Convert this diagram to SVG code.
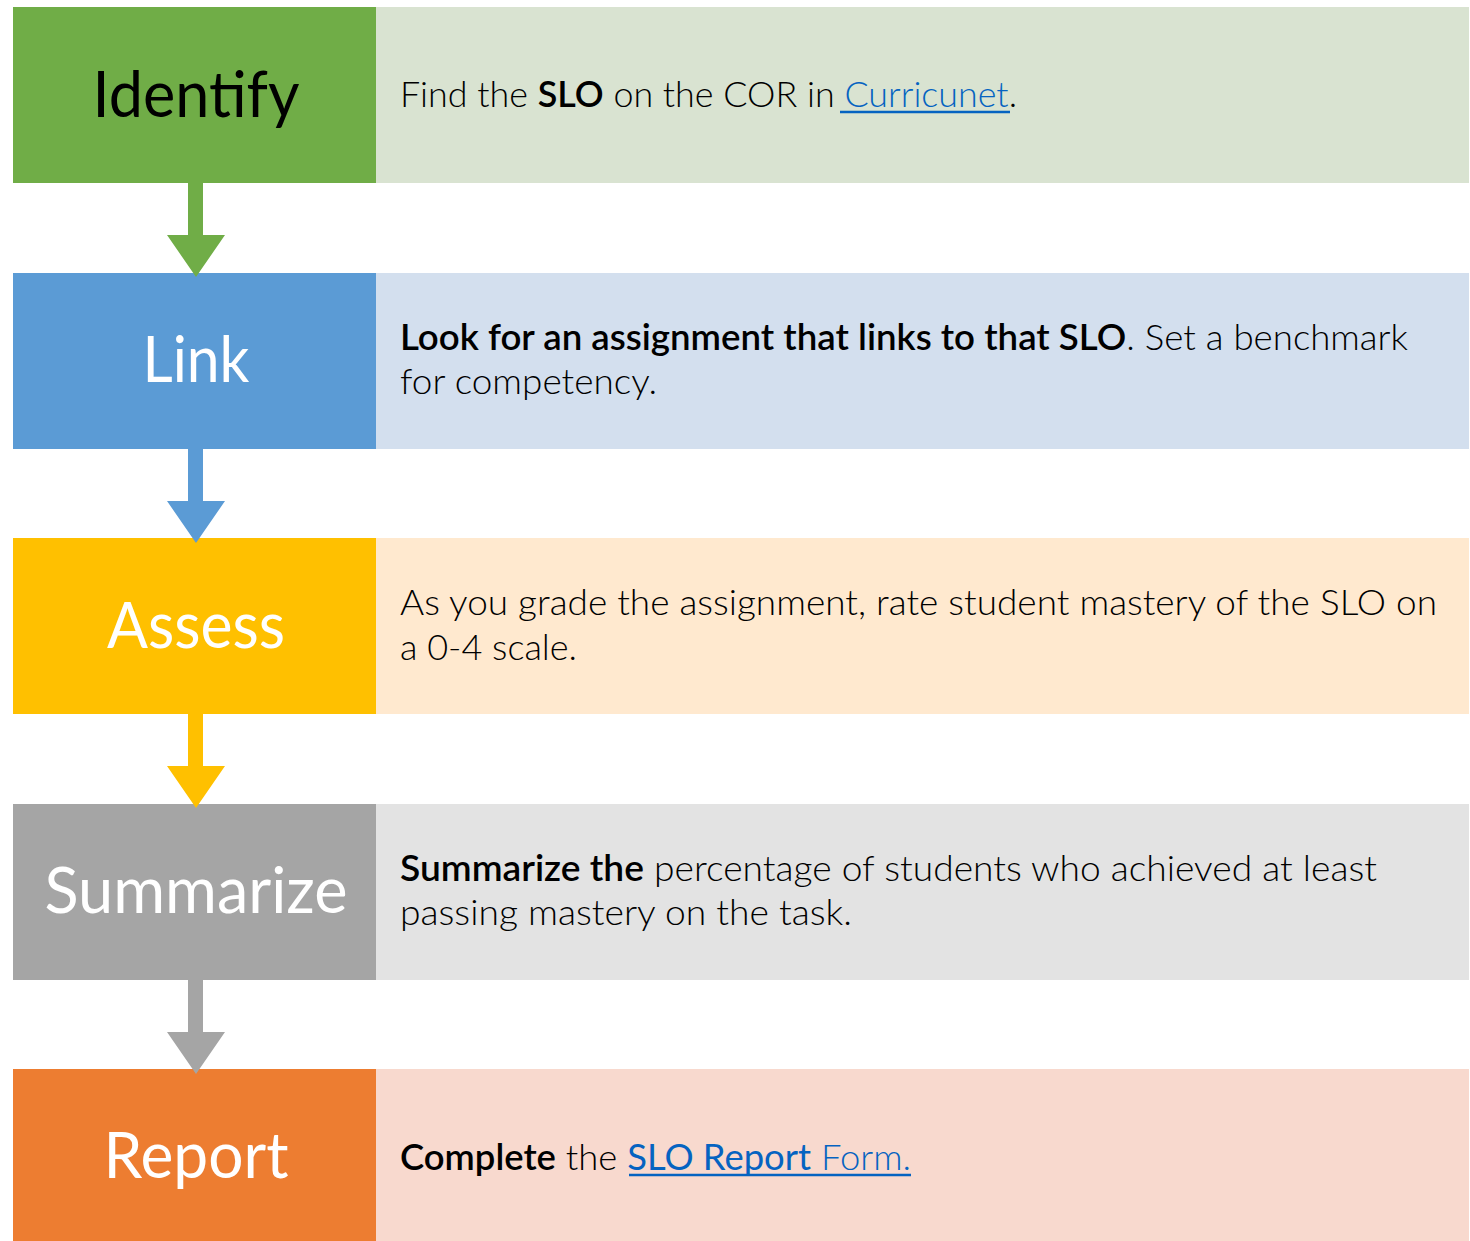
<svg xmlns="http://www.w3.org/2000/svg" width="1470" height="1241" viewBox="0 0 1470 1241">
<style>
.lbl{font-family:Lato,"Open Sans","Liberation Sans",sans-serif;font-size:64px;text-anchor:middle;fill:#fff}
.txt{font-family:Lato,"Open Sans","Liberation Sans",sans-serif;font-size:36px;fill:#000;font-weight:300}
.b{font-weight:600}
.lnk{fill:#0563C1}
.ul{stroke:#0563C1;stroke-width:2.5}
</style>
<rect width="1470" height="1241" fill="#fff"/>
<g id="node-identify">
<rect x="13" y="7" width="363" height="176" fill="#70AD47"/>
<rect x="376" y="7" width="1093" height="176" fill="#D9E3D1"/>
<text class="lbl" x="196" y="117" style="fill:#000" textLength="207" lengthAdjust="spacingAndGlyphs">Identify</text>
<text class="txt" x="400" y="107" textLength="617" lengthAdjust="spacingAndGlyphs">Find the <tspan class="b">SLO</tspan> on the COR in <tspan class="lnk">Curricunet</tspan>.</text>
<line class="ul" x1="840" y1="112" x2="1010" y2="112"/>
</g>
<g id="node-link">
<rect x="13" y="273" width="363" height="176" fill="#5B9BD5"/>
<rect x="376" y="273" width="1093" height="176" fill="#D3DFEE"/>
<text class="lbl" x="196" y="382" textLength="107" lengthAdjust="spacingAndGlyphs">Link</text>
<text class="txt" x="400" y="350" textLength="1008" lengthAdjust="spacingAndGlyphs"><tspan class="b">Look for an assignment that links to that SLO</tspan>. Set a benchmark</text>
<text class="txt" x="400" y="394" textLength="257" lengthAdjust="spacingAndGlyphs">for competency.</text>
</g>
<g id="node-assess">
<rect x="13" y="538" width="363" height="176" fill="#FFC000"/>
<rect x="376" y="538" width="1093" height="176" fill="#FFE9CF"/>
<text class="lbl" x="196" y="648" textLength="178" lengthAdjust="spacingAndGlyphs">Assess</text>
<text class="txt" x="400" y="615" textLength="1037" lengthAdjust="spacingAndGlyphs">As you grade the assignment, rate student mastery of the SLO on</text>
<text class="txt" x="400" y="660" textLength="177" lengthAdjust="spacingAndGlyphs">a 0-4 scale.</text>
</g>
<g id="node-summarize">
<rect x="13" y="804" width="363" height="176" fill="#A5A5A5"/>
<rect x="376" y="804" width="1093" height="176" fill="#E3E3E3"/>
<text class="lbl" x="196" y="913" textLength="303" lengthAdjust="spacingAndGlyphs">Summarize</text>
<text class="txt" x="400" y="881" textLength="977" lengthAdjust="spacingAndGlyphs"><tspan class="b">Summarize the</tspan> percentage of students who achieved at least</text>
<text class="txt" x="400" y="925" textLength="452" lengthAdjust="spacingAndGlyphs">passing mastery on the task.</text>
</g>
<g id="node-report">
<rect x="13" y="1069" width="363" height="176" fill="#ED7D31"/>
<rect x="376" y="1069" width="1093" height="176" fill="#F8D9CE"/>
<text class="lbl" x="196" y="1178" textLength="185" lengthAdjust="spacingAndGlyphs">Report</text>
<text class="txt" x="400" y="1170" textLength="511" lengthAdjust="spacingAndGlyphs"><tspan class="b">Complete</tspan> the <tspan class="lnk" font-weight="400">SLO Report</tspan><tspan class="lnk"> Form.</tspan></text>
<line class="ul" x1="629" y1="1175" x2="911" y2="1175"/>
</g>
<g id="connectors">
<path d="M188 183H203V235H225L196 277L167 235H188Z" fill="#70AD47"/>
<path d="M188 449H203V501H225L196 543L167 501H188Z" fill="#5B9BD5"/>
<path d="M188 714H203V766H225L196 808L167 766H188Z" fill="#FFC000"/>
<path d="M188 980H203V1032H225L196 1074L167 1032H188Z" fill="#A5A5A5"/>
</g>
</svg>
